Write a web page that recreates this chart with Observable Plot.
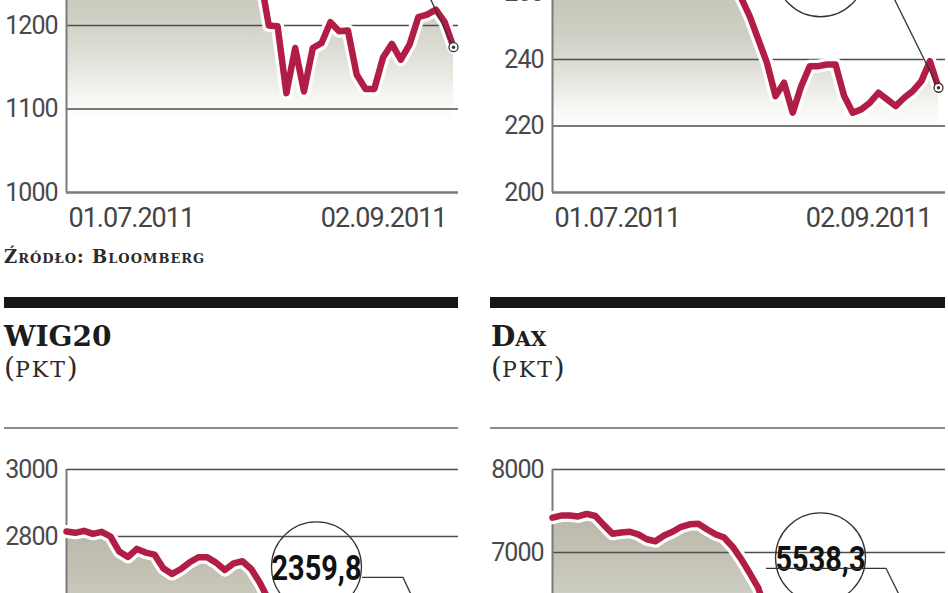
<!DOCTYPE html>
<html>
<head>
<meta charset="utf-8">
<script src="https://cdn.jsdelivr.net/npm/d3@7"></script>
<script src="https://cdn.jsdelivr.net/npm/@observablehq/plot@0.6"></script>
<style>
  html, body { margin: 0; padding: 0; background: #fff; }
  #page { position: relative; width: 948px; height: 593px; overflow: hidden; background: #fff; }
  .abs { position: absolute; }
  .bar { background: #161616; height: 11px; top: 297px; }
  .thin { background: #8e8e8e; height: 2px; top: 427px; }
  .title { font-family: "DejaVu Serif", serif; font-weight: bold; font-size: 28px; line-height: 28px; color: #1c1c1c; top: 323px; white-space: nowrap; }
  .unit { font-family: "DejaVu Serif", serif; font-size: 28px; line-height: 30px; color: #2a2a2a; top: 353px; white-space: nowrap; }
  .unit span { font-size: 22px; letter-spacing: 2px; }
  .src { font-family: "DejaVu Serif", serif; font-weight: bold; font-size: 18px; line-height: 18px; color: #2a2a2a; font-variant: small-caps; letter-spacing: 1px; top: 248px; left: 4px; white-space: nowrap; }
  svg { overflow: visible; }
</style>
</head>
<body>
<div id="page">
  <div class="abs" id="tl" style="left:0px; top:-152px;"></div>
  <div class="abs" id="tr" style="left:486px; top:-84px;"></div>
  <div class="abs src">Źródło: Bloomberg</div>

  <div class="abs bar" style="left:4px; width:454px;"></div>
  <div class="abs bar" style="left:490px; width:455px;"></div>
  <div class="abs title" style="left:4px;">WIG20</div>
  <div class="abs title" style="left:491px; font-variant: small-caps;">Dax</div>
  <div class="abs unit" style="left:4px;">(<span>PKT</span>)</div>
  <div class="abs unit" style="left:491px;">(<span>PKT</span>)</div>
  <div class="abs thin" style="left:4px; width:454px;"></div>
  <div class="abs thin" style="left:490px; width:455px;"></div>

  <div class="abs" id="bl" style="left:0px; top:459px;"></div>
  <div class="abs" id="br" style="left:486px; top:459px;"></div>
</div>

<script>
// ---------- data (trading days 01.07.2011 - 02.09.2011) ----------
const datesUS = ["01.07","05.07","06.07","07.07","08.07","11.07","12.07","13.07","14.07","15.07",
  "18.07","19.07","20.07","21.07","22.07","25.07","26.07","27.07","28.07","29.07",
  "01.08","02.08","03.08","04.08","05.08","08.08","09.08","10.08","11.08","12.08",
  "15.08","16.08","17.08","18.08","19.08","22.08","23.08","24.08","25.08","26.08",
  "29.08","30.08","31.08","01.09","02.09"];
const datesEU = ["01.07","04.07","05.07","06.07","07.07","08.07","11.07","12.07","13.07","14.07","15.07",
  "18.07","19.07","20.07","21.07","22.07","25.07","26.07","27.07","28.07","29.07",
  "01.08","02.08","03.08","04.08","05.08","08.08","09.08","10.08","11.08","12.08",
  "15.08","16.08","17.08","18.08","19.08","22.08","23.08","24.08","25.08","26.08",
  "29.08","30.08","31.08","01.09","02.09"];
const datesPL = datesEU.filter(d => d !== "15.08");
const yearSuffix = ".2011";

// top-left panel (pkt)
const topLeftValues = [1340,1338,1339,1353,1344,1319,1314,1318,1309,1316,
  1305,1327,1326,1344,1345,1337,1332,1305,1301,1292,
  1287,1254,1260,1200,1199,1119,1173,1121,1173,1179,
  1204,1193,1194,1141,1124,1124,1162,1178,1159,1177,
  1210,1213,1219,1204,1174];
const topLeftTicks = [1000,1100,1200,1300,1400];
const topLeftLabels = [1000,1100,1200];

// top-right panel
const topRightValues = [278,279,278,276,280,277,270,266,268,268,269,
  264,266,268,272,273,271,270,266,265,264,
  262,258.5,253,246,239,229,233,224,232,238,
  238,238.5,238.5,229,224,225,227,230,228,226,
  228.5,230.5,233.5,239.5,231.5];
const topRightTicks = [200,220,240,260,280];
const topRightLabels = [200,220,240,260];

// WIG20 (pkt)
const wig20Values = [2815,2811,2817,2808,2814,2800,2755,2739,2763,2752,2746,
  2705,2688,2703,2723,2738,2738,2722,2700,2720,2726,
  2703,2661,2610,2530,2450,2330,2300,2360,2330,2380,
  2420,2410,2330,2280,2300,2340,2330,2360,2340,
  2390,2420,2450,2420,2359.8];
const wig20Ticks = [2200,2400,2600,2800,3000];
const wig20Labels = [2600,2800,3000];

// DAX (pkt)
const daxValues = [7420,7445,7446,7435,7465,7440,7330,7225,7240,7250,7218,
  7160,7135,7205,7250,7310,7340,7345,7280,7220,7180,
  7070,6920,6750,6570,6240,5920,5950,5610,5800,5930,
  6000,5990,5990,5600,5480,5590,5630,5620,5570,5540,
  5700,5700,5780,5730,5538.3];
const daxTicks = [5000,6000,7000,8000];
const daxLabels = [7000,8000];

// ---------- styling ----------
const RED = "#b11d45";
const gradStops = [[0,"#b9b8a9"],[0.2,"#c2c1b3"],[0.4,"#cfcec4"],[0.55,"#e2e1da"],[0.68,"#f6f6f3"],[0.76,"#ffffff"]];
const fmt = v => v.toFixed(1).replace(".", ",");

function panel(id, cfg) {
  const data = cfg.dates.map((d, i) => ({i, d, v: cfg.values[i]}));
  const n = data.length - 1;
  const last = data[n];
  const yMin = cfg.ticks[0], yMax = cfg.ticks[cfg.ticks.length - 1];
  const gid = id + "-grad";
  const annText = fmt(last.v);
  const marks = [
    Plot.areaY(data, {x: "i", y1: yMin, y2: "v", fill: `url(#${gid})`}),
    Plot.ruleY(cfg.ticks.slice(1), {stroke: "#4e4e4e", strokeWidth: 1.7}),
    Plot.ruleY([yMin], {stroke: "#7a7a7a", strokeWidth: 2.4}),
    Plot.ruleX([0], {y1: yMin, y2: yMax, stroke: "#7a7a7a", strokeWidth: 2}),
    Plot.axisY({ticks: cfg.labels, tickSize: 0, tickPadding: 9, tickFormat: d => String(d), label: null, fontSize: 25}),
    Plot.text([0], {x: d => d, text: d => data[d].d + yearSuffix, frameAnchor: "bottom", lineAnchor: "middle", dy: 26, dx: 2, textAnchor: "start", fontSize: 27, fill: "#444"}),
    Plot.text([n], {x: d => d, text: d => data[d].d + yearSuffix, frameAnchor: "bottom", lineAnchor: "middle", dy: 26, dx: -7, textAnchor: "end", fontSize: 27, fill: "#444"}),
    Plot.line(data, {x: "i", y: "v", stroke: "white", strokeWidth: 13, strokeLinejoin: "round", strokeLinecap: "round"}),
    Plot.line(data, {x: "i", y: "v", stroke: RED, strokeWidth: 6.5, strokeLinejoin: "round", strokeLinecap: "round"}),
    Plot.dot([last], {x: "i", y: "v", r: 45, fill: "none", stroke: "#333", strokeWidth: 1.3, dx: cfg.ann.dx, dy: cfg.ann.dy})
  ];
  if (cfg.showValue) {
    marks.push(Plot.text([last], {x: "i", y: "v", text: () => annText, dx: cfg.ann.dx, dy: cfg.ann.dy + 2, fontSize: 35, fontWeight: "bold", fill: "#111"}));
  }
  marks.push(
    Plot.dot([last], {x: "i", y: "v", r: 4.5, fill: "white", stroke: "#333", strokeWidth: 1.3}),
    Plot.dot([last], {x: "i", y: "v", r: 1.7, fill: "#333"})
  );
  const chart = Plot.plot({
    width: cfg.width,
    height: cfg.height,
    marginTop: 10,
    marginBottom: cfg.height - 10 - cfg.plotH,
    marginLeft: 66,
    marginRight: cfg.marginRight,
    x: {domain: [0, n], range: [66, cfg.xEnd], axis: null},
    y: {domain: [yMin, yMax]},
    style: {fontFamily: "Roboto, sans-serif", fontSize: "25px", color: "#4a4a4a", background: "transparent", overflow: "visible", letterSpacing: "-1px"},
    marks
  });

  // gradient definition
  const defs = d3.create("svg:defs");
  const lg = defs.append("linearGradient").attr("id", gid).attr("x1", 0).attr("y1", 0).attr("x2", 0).attr("y2", 1);
  gradStops.forEach(([o, c]) => lg.append("stop").attr("offset", o).attr("stop-color", c));
  chart.insertBefore(defs.node(), chart.firstChild);

  // condense annotation value text
  d3.select(chart).selectAll("text").filter(function() { return this.textContent === annText; })
    .attr("textLength", 90).attr("lengthAdjust", "spacingAndGlyphs").style("letter-spacing", "0px");

  // connector from the circle to the last point
  const X = chart.scale("x").apply(n), Y = chart.scale("y").apply(last.v);
  const a = cfg.ann;
  const path = d3.create("svg:path")
    .attr("d", `M${X + a.h1},${Y + a.hy}H${X + a.h2}L${X},${Y}`)
    .attr("fill", "none").attr("stroke", "#333").attr("stroke-width", 1.3);
  chart.appendChild(path.node());
  // keep end marker on top
  const dots = chart.querySelectorAll('g[aria-label="dot"]');
  chart.appendChild(dots[dots.length - 2]);
  chart.appendChild(dots[dots.length - 1]);

  document.getElementById(id).appendChild(chart);
}

const annLeft = {dx: -137, dy: -117, h1: -91, h2: -50, hy: -106};
const annRight = {dx: -118, dy: -116, h1: -172, h2: -52, hy: -105};

panel("tl", {dates: datesUS, values: topLeftValues, ticks: topLeftTicks, labels: topLeftLabels, width: 474, marginRight: 16, xEnd: 453, plotH: 334, height: 394, ann: annLeft, showValue: false});
panel("tr", {dates: datesEU, values: topRightValues, ticks: topRightTicks, labels: topRightLabels, width: 462, marginRight: 3, xEnd: 452, plotH: 266, height: 326, ann: annRight, showValue: false});
panel("bl", {dates: datesPL, values: wig20Values, ticks: wig20Ticks, labels: wig20Labels, width: 474, marginRight: 16, xEnd: 453, plotH: 268, height: 328, ann: annLeft, showValue: true});
panel("br", {dates: datesEU, values: daxValues, ticks: daxTicks, labels: daxLabels, width: 462, marginRight: 3, xEnd: 452, plotH: 249, height: 309, ann: annRight, showValue: true});
</script>
</body>
</html>
